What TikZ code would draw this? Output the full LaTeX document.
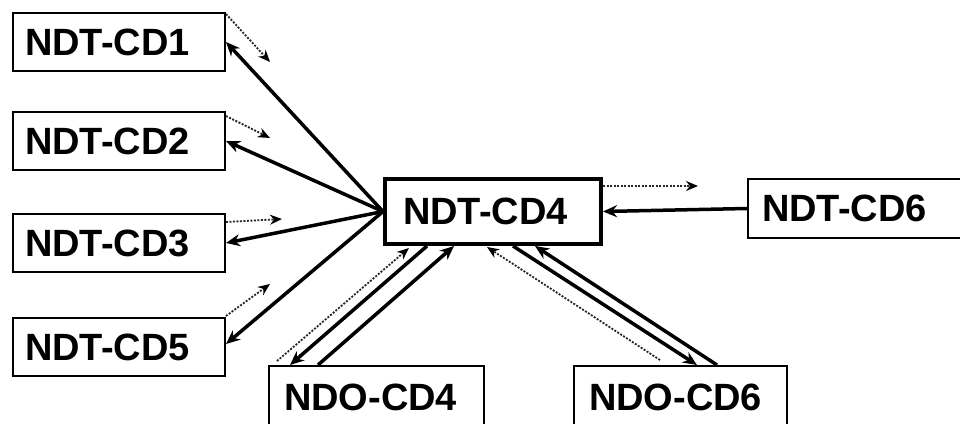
\documentclass[tikz,border=0pt]{standalone}
\usepackage{fontspec}
\setmainfont{Liberation Sans}
\usetikzlibrary{arrows.meta}

\begin{document}
\begin{tikzpicture}[x = 1pt, y = -1pt,
  cdbox/.style = {draw, line width = 2pt, anchor = north west, align = left,
    inner xsep = 12pt, inner ysep = 0pt, text width = 188pt, minimum height = 58pt,
    font = \fontsize{38}{40}\selectfont\bfseries},
  link/.style = {line width = 3.5pt, -{Stealth[length = 14pt, width = 12pt]}},
  flow/.style = {line width = 1.8pt, black!85, dash pattern = on 2pt off 1.5pt,
    -{Stealth[length = 12pt, width = 10pt, black]}}]
\useasboundingbox (0,0) rectangle (960,423);
\clip (0,0) rectangle (960,423);

\node[cdbox] (cd1) at (12,12) {NDT-CD1};
\node[cdbox] (cd2) at (12,111) {NDT-CD2};
\node[cdbox] (cd3) at (12,213) {NDT-CD3};
\node[cdbox] (cd5) at (12,317) {NDT-CD5};
\node[cdbox, line width = 4pt, inner xsep = 18pt, text width = 180pt, minimum height = 65pt] (cd4) at (383,177) {NDT-CD4};
\node[cdbox, inner xsep = 14pt, text width = 202pt, minimum height = 59pt] (cd6) at (747,178) {NDT-CD6};
\node[cdbox, inner xsep = 15pt, text width = 185pt, minimum height = 62pt] (ndo4) at (268,365) {NDO-CD4};
\node[cdbox, inner xsep = 15pt, text width = 183pt, minimum height = 62pt] (ndo6) at (573,365) {NDO-CD6};

\coordinate (f1) at (270,62);
\coordinate (f2) at (270,138);
\coordinate (f3) at (282,219);
\coordinate (f5) at (270,284);
\coordinate (f6) at (698,186);

\draw[link] (cd4.west) -- (cd1.east);
\draw[link] (cd4.west) -- (cd2.east);
\draw[link] (cd4.west) -- (cd3.east);
\draw[link] (cd4.west) -- ([yshift = 3pt]cd5.east);
\draw[link] (cd6.west) -- (cd4.east);
\draw[link] ([xshift = 44pt]cd4.south west) -- ([xshift = 22pt]ndo4.north west);
\draw[link] ([xshift = 50pt]ndo4.north west) -- ([xshift = 71pt]cd4.south west);
\draw[link] ([xshift = 130pt]cd4.south west) -- ([xshift = 124pt]ndo6.north west);
\draw[link] ([xshift = 144pt]ndo6.north west) -- ([xshift = 152pt]cd4.south west);

\draw[flow] ([yshift = -2pt]cd1.north east) -- (f1);
\draw[flow] ([yshift = -5pt]cd2.north east) -- (f2);
\draw[flow] ([yshift = -9pt]cd3.north east) -- (f3);
\draw[flow] ([yshift = 1pt]cd5.north east) -- (f5);
\draw[flow] ([yshift = -9pt]cd4.north east) -- (f6);
\draw[flow] ([xshift = 9pt, yshift = 4pt]ndo4.north west) -- ([xshift = 26pt, yshift = -2pt]cd4.south west);
\draw[flow] ([xshift = 87pt, yshift = 5pt]ndo6.north west) -- ([xshift = 104pt, yshift = -1pt]cd4.south west);
\end{tikzpicture}
\end{document}
